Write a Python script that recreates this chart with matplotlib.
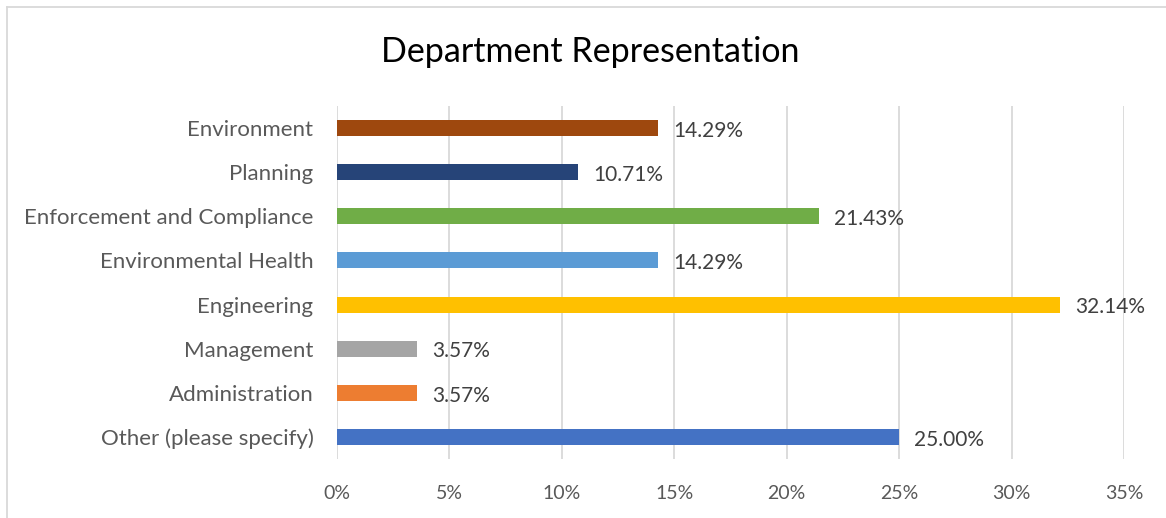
import matplotlib
matplotlib.use("Agg")
import matplotlib.pyplot as plt
from matplotlib.lines import Line2D

categories = ["Other (please specify)", "Administration", "Management", "Engineering",
              "Environmental Health", "Enforcement and Compliance", "Planning", "Environment"]
values = [25.00, 3.57, 3.57, 32.14, 14.29, 21.43, 10.71, 14.29]
colors = ["#4472C4", "#ED7D31", "#A5A5A5", "#FFC000", "#5B9BD5", "#70AD47", "#264478", "#9E480E"]
xticks = [0, 5, 10, 15, 20, 25, 30, 35]
xticklabels = ["0%", "5%", "10%", "15%", "20%", "25%", "30%", "35%"]

W, H = 1166, 518
fig = plt.figure(figsize=(W / 100, H / 100), dpi=100)
plt.rcParams['font.family'] = ['Lato', 'DejaVu Sans']

ax = fig.add_axes([337 / W, 1 - 459 / H, (1124 - 337) / W, (459 - 106) / H])
ypos = list(range(len(categories)))
ax.barh(ypos, values, height=0.36, color=colors, zorder=3)
ax.set_xlim(0, 35)
ax.set_ylim(-0.5, len(categories) - 0.5)
ax.set_xticks(xticks)
ax.set_xticklabels(xticklabels)
ax.set_yticks(ypos)
ax.set_yticklabels(categories)
ax.tick_params(axis='y', length=0, labelsize=16, colors="#595959", pad=17)
ax.tick_params(axis='x', length=0, labelsize=14, colors="#595959", pad=19)
for s in ax.spines.values():
    s.set_visible(False)
ax.grid(axis='x', color="#D9D9D9", linewidth=1.3, zorder=0)

for y, v in zip(ypos, values):
    ax.annotate(f"{v:.2f}%", xy=(v, y), xytext=(11, -2), textcoords='offset points',
                va='center', ha='left', fontsize=15, color="#404040")

fig.text(590 / W, 1 - 52 / H, "Department Representation", ha='center', va='center',
         fontsize=24.5, color="black")

fig.add_artist(Line2D([7 / W, 1], [1 - 7 / H, 1 - 7 / H], color="#D9D9D9", linewidth=1.3,
                      transform=fig.transFigure))
fig.add_artist(Line2D([7 / W, 7 / W], [0, 1 - 7 / H], color="#D9D9D9", linewidth=1.3,
                      transform=fig.transFigure))

fig.savefig("out.png", dpi=100, facecolor="white")
